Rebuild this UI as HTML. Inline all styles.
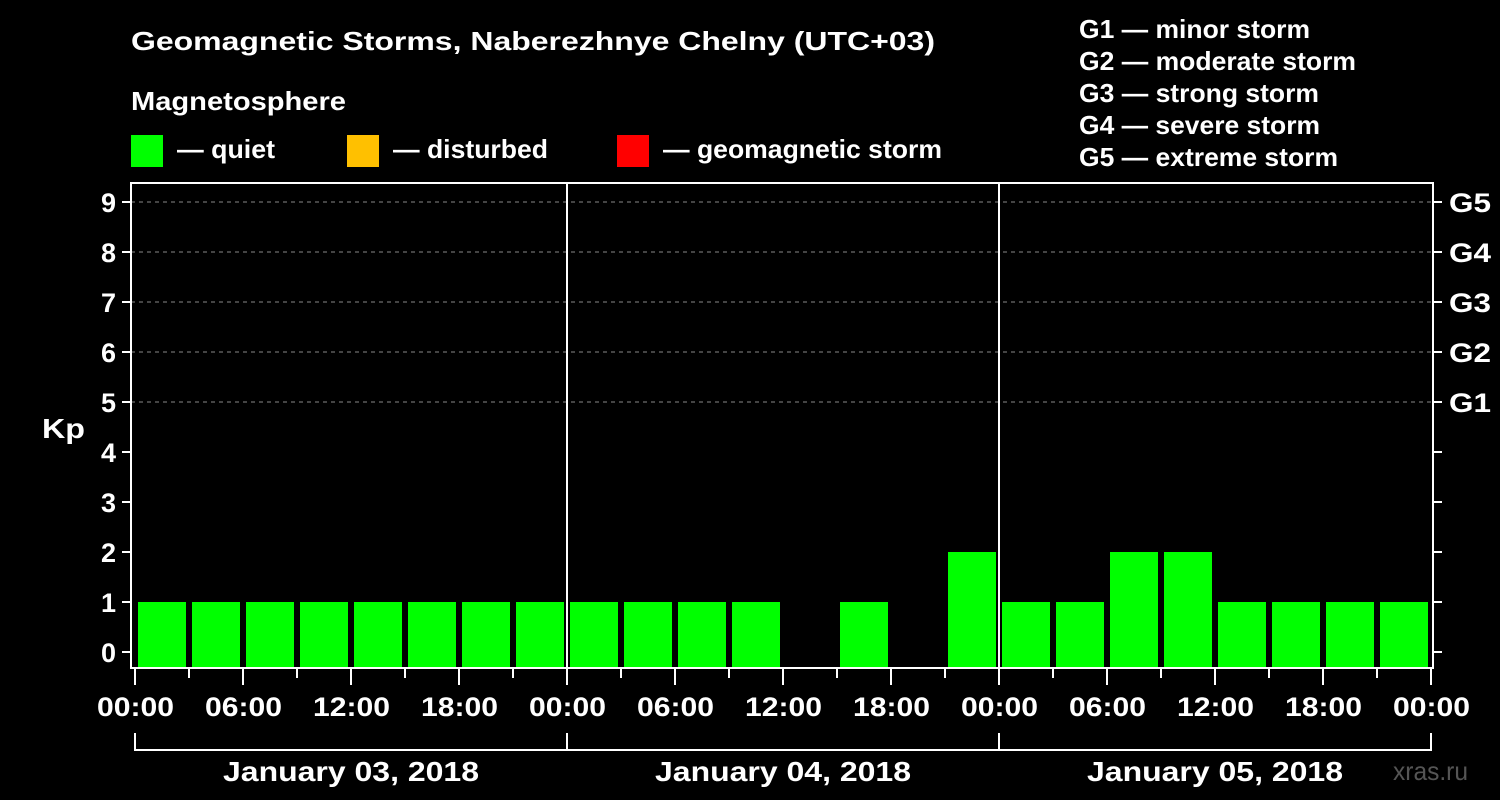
<!DOCTYPE html>
<html><head><meta charset="utf-8"><style>
body{margin:0;background:#000;}
svg{display:block;font-family:"Liberation Sans",sans-serif;font-weight:bold;}
</style></head><body>
<svg id="chart" width="1500" height="800" viewBox="0 0 1500 800">
<rect width="1500" height="800" fill="#000"/>
<text x="131" y="50" fill="#fff" font-size="26" textLength="804" lengthAdjust="spacingAndGlyphs">Geomagnetic Storms, Naberezhnye Chelny (UTC+03)</text>
<text x="131" y="110" fill="#fff" font-size="26" textLength="215" lengthAdjust="spacingAndGlyphs">Magnetosphere</text>
<g>
<rect x="131" y="135" width="32" height="32" fill="#00ff00"/>
<text x="177" y="158" fill="#fff" font-size="26" textLength="98" lengthAdjust="spacingAndGlyphs">— quiet</text>
<rect x="347" y="135" width="32" height="32" fill="#ffc000"/>
<text x="393" y="158" fill="#fff" font-size="26" textLength="155" lengthAdjust="spacingAndGlyphs">— disturbed</text>
<rect x="617" y="135" width="32" height="32" fill="#ff0000"/>
<text x="663" y="158" fill="#fff" font-size="26" textLength="279" lengthAdjust="spacingAndGlyphs">— geomagnetic storm</text>
</g>
<g fill="#fff" font-size="26">
<text x="1079" y="38" textLength="231" lengthAdjust="spacingAndGlyphs">G1 — minor storm</text>
<text x="1079" y="70" textLength="277" lengthAdjust="spacingAndGlyphs">G2 — moderate storm</text>
<text x="1079" y="102" textLength="240" lengthAdjust="spacingAndGlyphs">G3 — strong storm</text>
<text x="1079" y="134" textLength="241" lengthAdjust="spacingAndGlyphs">G4 — severe storm</text>
<text x="1079" y="166" textLength="259" lengthAdjust="spacingAndGlyphs">G5 — extreme storm</text>
</g>
<text x="42" y="438" fill="#fff" font-size="28" textLength="43" lengthAdjust="spacingAndGlyphs">Kp</text>
<text x="1393" y="780" fill="#555" font-size="26" font-weight="normal" textLength="75" lengthAdjust="spacingAndGlyphs">xras.ru</text>
<g id="grid"></g><g id="bars"></g><g id="axes"></g>
</svg>
<script>
const kpValues=[1,1,1,1,1,1,1,1, 1,1,1,1,0,1,0,2, 1,1,2,2,1,1,1,1];
const dayLabels=["January 03, 2018","January 04, 2018","January 05, 2018"];
const hourLabels=["00:00","06:00","12:00","18:00"];
const gLabels=["G1","G2","G3","G4","G5"];
const NS="http://www.w3.org/2000/svg";
const x0=135,dayW=432,pTop=183,pBottom=668,pLeft=131,pRight=1433;
const yS=v=>652-v*50;
const xS=i=>x0+i*dayW/8;
function mk(t,a,p){const e=document.createElementNS(NS,t);for(const k in a)e.setAttribute(k,a[k]);p.appendChild(e);return e;}
const grid=document.getElementById('grid'),bars=document.getElementById('bars'),axes=document.getElementById('axes');
for(let v=5;v<=9;v++){const l=mk('line',{x1:pLeft,x2:pRight,y1:yS(v),y2:yS(v),stroke:'#888','stroke-dasharray':'4,4','stroke-width':1},grid);

}
kpValues.forEach((v,i)=>{if(v<=0)return;
const c=v>=5?'#ff0000':(v>=4?'#ffc000':'#00ff00');
const r=mk('rect',{x:xS(i)+3,y:yS(v),width:48,height:pBottom-yS(v),fill:c},bars);

});
const frame=mk('rect',{x:pLeft,y:pTop,width:pRight-pLeft,height:pBottom-pTop,fill:'none',stroke:'#fff','stroke-width':2},axes);


for(let d=1;d<3;d++){const l=mk('line',{x1:x0+d*dayW,x2:x0+d*dayW,y1:pTop,y2:pBottom,stroke:'#fff','stroke-width':2},axes);

}
for(let v=0;v<=9;v++){mk('line',{x1:122,x2:pLeft,y1:yS(v),y2:yS(v),stroke:'#fff','stroke-width':2},axes);
mk('line',{x1:pRight,x2:1442,y1:yS(v),y2:yS(v),stroke:'#fff','stroke-width':2},axes);
const t=mk('text',{x:116,y:yS(v)+10,fill:'#fff','font-size':27,'text-anchor':'end'},axes);t.textContent=v;

}
gLabels.forEach((g,i)=>{const t=mk('text',{x:1449,y:yS(5+i)+10,fill:'#fff','font-size':27,textLength:42,lengthAdjust:'spacingAndGlyphs'},axes);t.textContent=g;

});
for(let i=0;i<=24;i++){const maj=i%2==0;mk('line',{x1:xS(i),x2:xS(i),y1:669,y2:maj?685:678,stroke:'#fff','stroke-width':2},axes);
if(maj){const t=mk('text',{x:xS(i)-38,y:716,fill:'#fff','font-size':27,textLength:77,lengthAdjust:'spacingAndGlyphs'},axes);t.textContent=hourLabels[(i/2)%4];

}}
mk('path',{d:`M${x0} 733V750H${x0+3*dayW}V733`,fill:'none',stroke:'#fff','stroke-width':2},axes);
for(let d=1;d<3;d++)mk('line',{x1:x0+d*dayW,x2:x0+d*dayW,y1:733,y2:750,stroke:'#fff','stroke-width':2},axes);
dayLabels.forEach((s,d)=>{const t=mk('text',{x:x0+d*dayW+dayW/2-128,y:781,fill:'#fff','font-size':28,textLength:256,lengthAdjust:'spacingAndGlyphs'},axes);t.textContent=s;

});
</script>
</body></html>
